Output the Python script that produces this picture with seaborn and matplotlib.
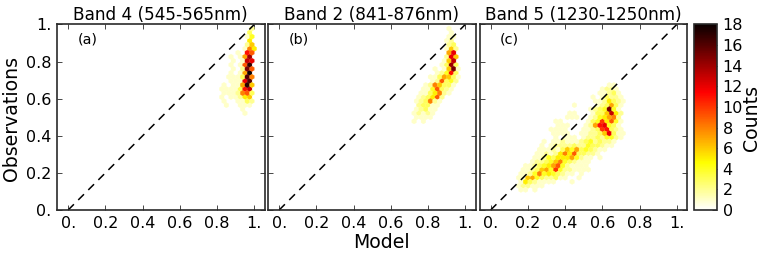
import matplotlib
matplotlib.use("Agg")
import matplotlib.pyplot as plt
import numpy as np
import pandas as pd
import seaborn as sns

titles = ["Band 4 (545-565nm)", "Band 2 (841-876nm)", "Band 5 (1230-1250nm)"]
letters = ["(a)", "(b)", "(c)"]
tick_values = [0, 0.2, 0.4, 0.6, 0.8, 1]
tick_labels = ["0.", "0.2", "0.4", "0.6", "0.8", "1."]
cbar_ticks = list(range(0, 20, 2))

# each row: observed value, model value of first cell, counts going right
band4_y = [0.978, 0.957, 0.935, 0.913, 0.891, 0.870, 0.848, 0.826, 0.804, 0.783, 0.761, 0.739,
           0.717, 0.696, 0.674, 0.652, 0.630, 0.609, 0.587, 0.565, 0.543, 0.522]
band4_x = [0.9875, 0.975, 0.9625, 0.975, 0.9625, 0.95, 0.9125, 0.875, 0.8875, 0.875, 0.8875, 0.875,
           0.8625, 0.85, 0.8375, 0.825, 0.8375, 0.825, 0.8125, 0.85, 0.9375, 0.95]
band4_counts = [[2], [3], [1, 4], [5], [2, 6], [1, 8, 5], [1, 0, 11, 9], [1, 0, 1, 7, 14],
                [1, 0, 1, 13, 12], [1, 0, 1, 9, 17], [1, 0, 2, 15, 9], [1, 0, 1, 7, 18],
                [1, 1, 1, 3, 16, 8], [0, 1, 1, 1, 12, 16], [1, 0, 1, 1, 7, 17, 6],
                [1, 1, 1, 1, 3, 11, 13], [1, 1, 1, 2, 8, 9, 3], [1, 0, 1, 1, 2, 5, 6],
                [0, 1, 0, 0, 1, 1, 3, 2], [1, 0, 0, 1, 1, 1], [1], [1]]

band2_y = [0.978, 0.957, 0.935, 0.913, 0.891, 0.870, 0.848, 0.826, 0.804, 0.783, 0.761, 0.739,
           0.717, 0.696, 0.674, 0.652, 0.630, 0.609, 0.587, 0.565, 0.543, 0.522, 0.5, 0.478]
band2_x = [0.925, 0.925, 0.9125, 0.9, 0.9125, 0.9, 0.9125, 0.9, 0.8875, 0.85, 0.8375, 0.85,
           0.8125, 0.8, 0.7875, 0.775, 0.7625, 0.75, 0.7375, 0.75, 0.7375, 0.725, 0.7375, 0.725]
band2_counts = [[1], [1], [1, 1], [1, 2], [2, 3], [1, 6, 2], [7, 12], [2, 12, 6], [1, 6, 13],
                [0, 1, 3, 14, 3], [1, 0, 1, 6, 15, 1], [1, 2, 4, 11, 3], [1, 1, 3, 7, 6, 3, 1],
                [0, 1, 2, 9, 3, 4, 2], [1, 2, 8, 6, 3, 3, 1], [1, 1, 4, 9, 3, 2, 1],
                [1, 1, 3, 5, 8, 2, 1], [1, 2, 3, 5, 9, 2, 0], [1, 2, 3, 8, 2, 1], [2, 3, 3, 1, 1],
                [1, 2, 3, 1, 1], [1, 2, 1, 2, 1, 0], [1, 1, 1, 1], [1, 0, 1]]

band5_y = [0.674, 0.652, 0.630, 0.609, 0.587, 0.565, 0.543, 0.522, 0.5, 0.478, 0.457, 0.435, 0.413,
           0.391, 0.370, 0.348, 0.326, 0.304, 0.283, 0.261, 0.239, 0.217, 0.196, 0.174, 0.152, 0.13, 0.109]
band5_x = [0.6375, 0.6, 0.5875, 0.55, 0.5625, 0.45, 0.5375, 0.425, 0.4125, 0.35, 0.3625, 0.325, 0.3375,
           0.35, 0.2875, 0.275, 0.2625, 0.25, 0.2375, 0.225, 0.1875, 0.175, 0.1625, 0.15, 0.1625, 0.15, 0.1625]
band5_counts = [[1, 1], [1, 2, 2, 1], [1, 1, 2, 3, 1], [1, 0, 1, 3, 2, 2, 1], [1, 1, 2, 5, 3, 2, 1],
                [1, 0, 0, 0, 0, 1, 2, 3, 7, 3, 1], [1, 2, 3, 4, 15, 4, 1],
                [1, 1, 0, 0, 0, 1, 3, 3, 6, 13, 5, 2], [1, 1, 1, 0, 0, 1, 2, 4, 5, 7, 8, 2],
                [1, 1, 0, 0, 0, 0, 0, 1, 3, 4, 10, 5, 9, 4, 1],
                [1, 1, 1, 0, 0, 0, 1, 2, 7, 11, 12, 4, 3, 1],
                [1, 1, 1, 1, 0, 0, 0, 1, 1, 2, 3, 10, 11, 3, 2, 1],
                [1, 1, 1, 1, 0, 0, 1, 1, 2, 2, 3, 6, 12, 3, 1, 1],
                [1, 0, 1, 1, 1, 0, 1, 2, 2, 3, 2, 4, 4, 2, 1],
                [1, 0, 1, 1, 2, 1, 1, 1, 2, 3, 4, 2, 3, 2, 2, 1],
                [1, 0, 1, 2, 2, 2, 2, 3, 2, 2, 4, 3, 3, 2, 1, 1],
                [1, 1, 1, 2, 1, 3, 6, 4, 7, 3, 4, 3, 2, 1, 1],
                [1, 1, 2, 1, 2, 5, 8, 5, 9, 3, 3, 2, 2, 1],
                [1, 1, 2, 4, 3, 5, 5, 5, 7, 4, 2, 1, 1, 0, 1],
                [1, 2, 2, 3, 4, 6, 8, 4, 3, 2, 1, 1, 1],
                [1, 1, 2, 3, 4, 5, 7, 9, 4, 2, 1, 1, 1, 1],
                [1, 1, 2, 3, 6, 7, 4, 10, 4, 2, 2, 1, 1, 1, 1],
                [1, 1, 2, 4, 8, 4, 5, 4, 3, 2, 1, 1, 0, 1],
                [1, 1, 6, 7, 4, 3, 2, 2, 3, 1, 1, 0, 0, 1],
                [1, 5, 3, 2, 1, 1, 1, 1, 0, 0, 0, 1],
                [1, 2, 2, 1, 1, 1], [1, 1, 0, 1]]

CELL = 0.025  # width of one hexbin cell at gridsize 40


def rows_to_frame(ys, xs, counts):
    rec = []
    for y, x0, row in zip(ys, xs, counts):
        for k, c in enumerate(row):
            if c > 0:
                rec.append((x0 + k * CELL, y, c))
    return pd.DataFrame(rec, columns=["model", "obs", "count"])


bands = [
    rows_to_frame(band4_y, band4_x, band4_counts),
    rows_to_frame(band2_y, band2_x, band2_counts),
    rows_to_frame(band5_y, band5_x, band5_counts),
]

sns.set_style("ticks")
plt.rcParams["font.family"] = ["DejaVu Sans"]
plt.rcParams["text.color"] = "black"
EDGE = "#2a2a2a"
W, H = 763, 254

fig = plt.figure(figsize=(W / 100, H / 100), dpi=100)
lefts = [57, 268, 479.5]
hb = None
for i, df in enumerate(bands):
    ax = fig.add_axes([lefts[i] / W, 1 - 210 / H, 207.5 / W, 185.5 / H])
    hb = ax.hexbin(
        df["model"], df["obs"], C=df["count"], reduce_C_function=np.sum,
        gridsize=40, extent=(0, 1, 0, 1), cmap="hot_r", vmin=0, vmax=18, linewidths=0.2,
    )
    sns.lineplot(
        x=[0, 1], y=[0, 1], ax=ax, color="black", lw=1.1,
        linestyle=(0, (5.3, 4)), estimator=None, errorbar=None,
    )
    ax.set_xlim(-0.06, 1.055)
    ax.set_ylim(0, 1)
    ax.set_xticks(tick_values)
    ax.set_xticklabels(tick_labels)
    ax.set_yticks(tick_values)
    ax.set_yticklabels(tick_labels if i == 0 else [])
    ax.tick_params(direction="in", top=True, right=True, length=3.5, width=0.6,
                   color=EDGE, labelsize=11.5, pad=4, labelcolor="black")
    for sp in ax.spines.values():
        sp.set_linewidth(1.2)
        sp.set_color(EDGE)
    ax.set_title(titles[i], fontsize=12.15, pad=3.5)
    ax.text(0.05, 0.92, letters[i], fontsize=10.4, ha="left", va="center")

cax = fig.add_axes([694 / W, 1 - 210 / H, 23 / W, 185.5 / H])
cbar = fig.colorbar(hb, cax=cax)
cbar.set_ticks(cbar_ticks)
cbar.ax.tick_params(direction="in", length=3.5, width=0.6, color=EDGE, labelsize=11.5, pad=4,
                    labelcolor="black")
cbar.outline.set_linewidth(1.2)
cbar.outline.set_edgecolor(EDGE)

fig.text(381.5 / W, 1 - 242 / H, "Model", fontsize=13.6, ha="center", va="center")
fig.text(12 / W, 1 - 118 / H, "Observations", fontsize=13.6, rotation=90, ha="center", va="center")
fig.text(752 / W, 1 - 118 / H, "Counts", fontsize=13.6, rotation=90, ha="center", va="center")

fig.savefig("out.png", dpi=100)
